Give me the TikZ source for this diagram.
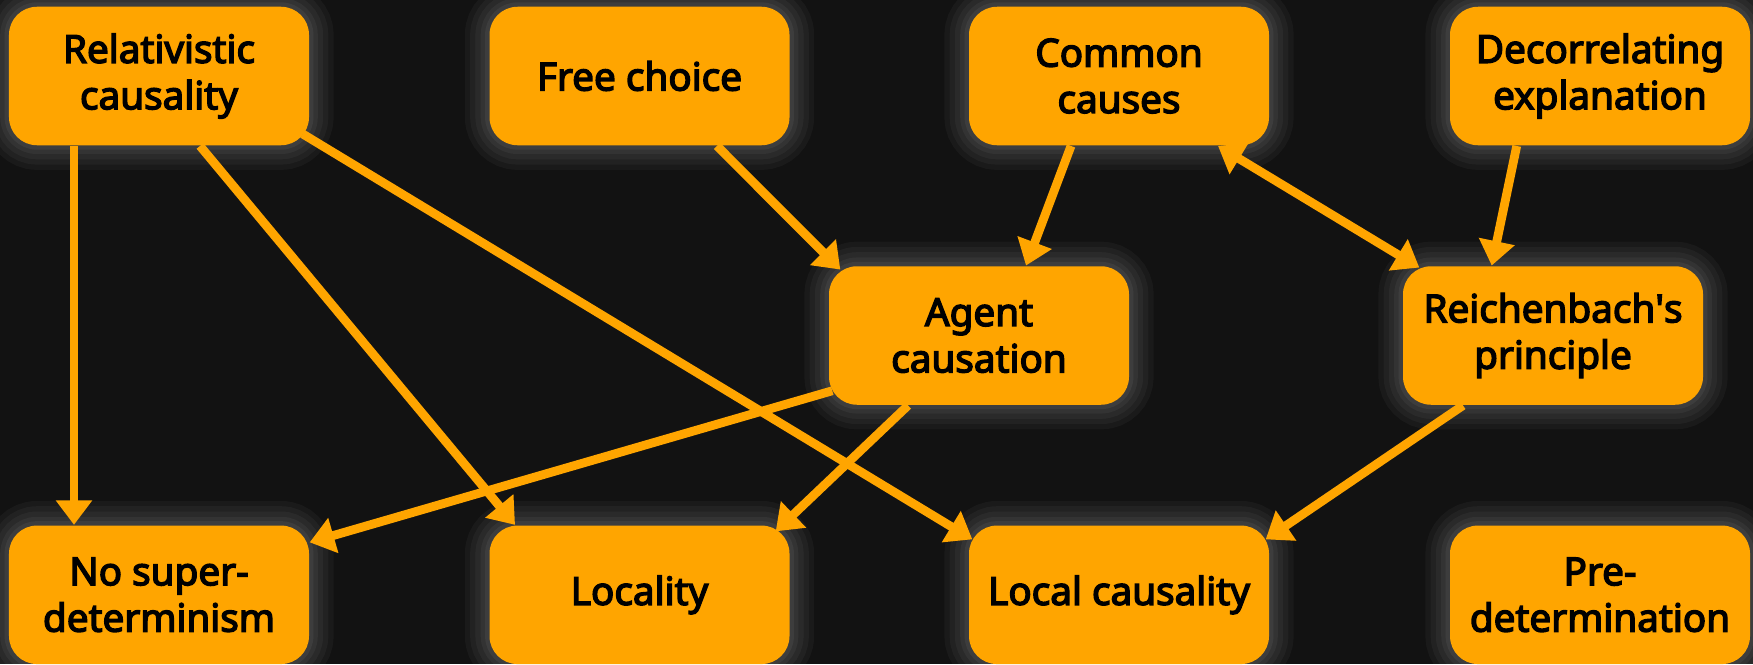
\documentclass[tikz,border=0pt]{standalone}
\usepackage{fontspec}
\setmainfont{Noto Sans}[BoldFont={Noto Sans}, BoldFeatures={FakeBold=3.6}]
\usetikzlibrary{arrows.meta}
\definecolor{boxorange}{HTML}{FFA500}
\definecolor{bgdark}{HTML}{121212}

\begin{document}
\begin{tikzpicture}[
obj/.style={fill=boxorange, text=black, rounded corners=0.28cm, minimum width=3cm, minimum height=1.385cm, align=center, font=\fontsize{11}{13.2}\selectfont\bfseries, glow},
glow/.style={preaction={fill=none, draw=white, opacity=.035, line width=14pt}, preaction={fill=none, draw=white, opacity=.035, line width=11pt}, preaction={fill=none, draw=white, opacity=.04, line width=8pt}, preaction={fill=none, draw=white, opacity=.045, line width=5pt}, preaction={fill=none, draw=white, opacity=.05, line width=2.5pt}},
arrow/.style={-{Triangle[length=7pt,width=10pt]}, line width=2.5pt, draw=boxorange},
twoway/.style={{Triangle[length=7pt,width=10pt]}-{Triangle[length=7pt,width=10pt]}} ]

\useasboundingbox (0,0) rectangle (17.53,-6.64);
\fill[bgdark] (0,0) rectangle (17.53,-6.64);

\node[obj](rel) at (1.59,-0.76) {Relativistic\\causality};

\node[obj](free) at (6.395,-0.76) {Free choice};

\node[obj](common) at (11.19,-0.76) {Common\\causes};

\node[obj](decor) at (16.0,-0.76) {Decorrelating\\explanation};

\node[obj](agent) at (9.79,-3.355) {Agent\\causation};

\node[obj](reich) at (15.53,-3.355) {Reichenbach\textquotesingle s\\principle};

\node[obj](nosd) at (1.59,-5.948) {No super-\\determinism};

\node[obj](loc) at (6.395,-5.948) {Locality};

\node[obj](lcaus) at (11.19,-5.948) {Local causality};

\node[obj](predet) at (16.0,-5.948) {Pre-\\determination};

\draw[arrow] ([xshift=-0.85cm]rel.south) -- ([xshift=-0.85cm]nosd.north);

\draw[arrow] ([xshift=0.41cm]rel.south) -- ([xshift=-1.245cm]loc.north);

\draw[arrow] ([shift={(-0.07,0.12)}]rel.south east) -- ([shift={(0.04,-0.145)}]lcaus.north west);

\draw[arrow] ([xshift=0.775cm]free.south) -- ([shift={(0.12,-0.04)}]agent.north west);

\draw[arrow] ([xshift=-0.48cm]common.south) -- ([xshift=0.47cm]agent.north);

\draw[arrow, twoway] ([xshift=0.99cm]common.south) -- ([shift={(0.17,-0.02)}]reich.north west);

\draw[arrow] ([xshift=-0.833cm]decor.south) -- ([xshift=-0.613cm]reich.north);

\draw[arrow] ([shift={(0.04,0.147)}]agent.south west) -- ([yshift=-0.175cm]nosd.north east);

\draw[arrow] ([xshift=-0.71cm]agent.south) -- ([shift={(-0.145,-0.065)}]loc.north east);

\draw[arrow] ([xshift=-0.9cm]reich.south) -- ([shift={(-0.04,-0.145)}]lcaus.north east);

\end{tikzpicture}
\end{document}
